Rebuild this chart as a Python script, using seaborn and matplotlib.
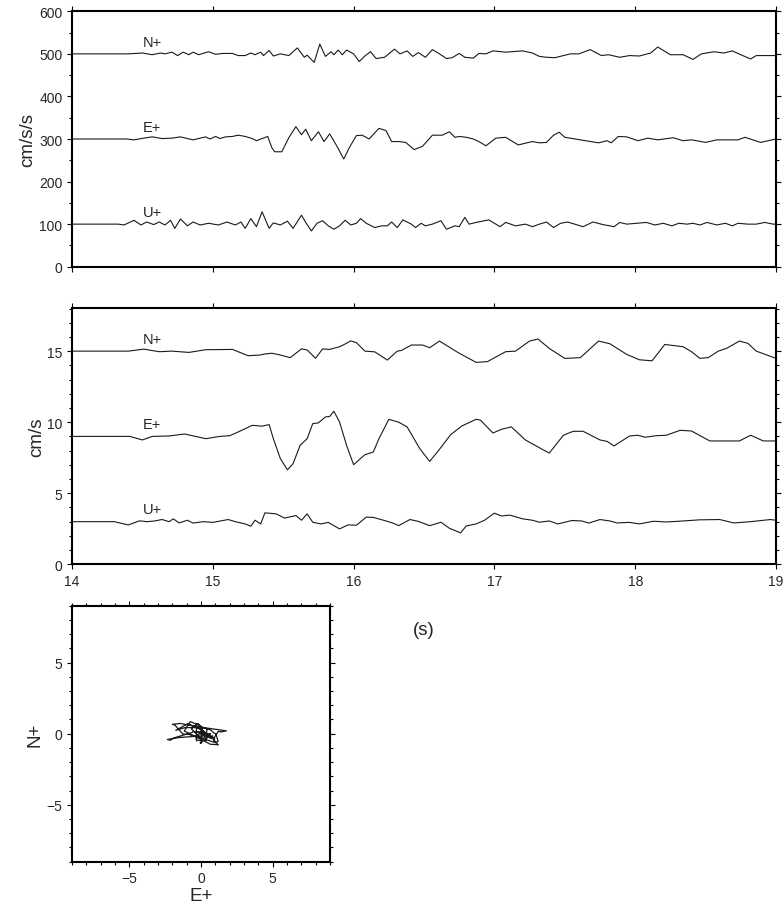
import numpy as np
import pandas as pd
import matplotlib
matplotlib.use("Agg")
import matplotlib.pyplot as plt
from matplotlib.ticker import MultipleLocator
import seaborn as sns

# ---------------- data ----------------
# Acceleration traces (cm/s/s), deviation from trace baseline
acc_n_t = [14.0, 14.40, 14.50, 14.57, 14.63, 14.66, 14.71, 14.75, 14.79, 14.83, 14.86, 14.90, 14.94, 14.97,
           15.02, 15.07, 15.14, 15.18, 15.23, 15.27, 15.30, 15.34, 15.36, 15.40, 15.43, 15.48, 15.54, 15.60,
           15.65, 15.67, 15.72, 15.76, 15.80, 15.84, 15.86, 15.89, 15.92, 15.95, 16.00, 16.04, 16.08, 16.12,
           16.16, 16.22, 16.29, 16.33, 16.38, 16.42, 16.46, 16.51, 16.56, 16.61, 16.66, 16.70, 16.75, 16.79,
           16.85, 16.89, 16.94, 16.99, 17.08, 17.20, 17.27, 17.32, 17.37, 17.43, 17.49, 17.54, 17.60, 17.68,
           17.76, 17.81, 17.89, 17.96, 18.03, 18.11, 18.16, 18.25, 18.34, 18.41, 18.47, 18.56, 18.63, 18.69,
           18.75, 18.82, 18.86, 19.0]
acc_n_v = [0, 0, 2, -2, 2, 0, 4, -4, 4, -2, 4, -2, 2, 5,
           -1, 1, 1, -4, -4, 2, -2, 4, -4, 8, -5, 0, -4, 14,
           -8, -3, -20, 23, -6, 5, -2, 9, -2, 9, 0, -18, -5, 5,
           -11, -8, 11, 0, 7, -6, 3, -8, 10, 0, -11, -9, 1, -8,
           -10, 1, 0, 7, 4, 7, 2, -6, -8, -9, -4, 0, 0, 10,
           -4, -2, -8, -4, -5, 2, 16, -2, -2, -13, 0, 5, 2, 7,
           -2, -12, -4, -4]

acc_e_t = [14.0, 14.39, 14.44, 14.51, 14.57, 14.64, 14.71, 14.77, 14.82, 14.86, 14.91, 14.95, 14.98, 15.02,
           15.05, 15.09, 15.14, 15.18, 15.23, 15.28, 15.31, 15.35, 15.39, 15.42, 15.44, 15.49, 15.54, 15.59,
           15.63, 15.66, 15.70, 15.75, 15.79, 15.83, 15.88, 15.93, 15.97, 16.02, 16.06, 16.11, 16.18, 16.23,
           16.27, 16.32, 16.37, 16.43, 16.49, 16.56, 16.63, 16.68, 16.72, 16.75, 16.80, 16.85, 16.89, 16.94,
           17.01, 17.08, 17.17, 17.23, 17.27, 17.32, 17.37, 17.42, 17.46, 17.50, 17.61, 17.74, 17.80, 17.83,
           17.88, 17.94, 18.02, 18.09, 18.16, 18.27, 18.34, 18.40, 18.50, 18.58, 18.73, 18.78, 18.89, 19.0]
acc_e_v = [0, 0, -2, 2, 5, 1, 2, 5, 1, -2, 2, 5, 0, 6,
           1, 5, 6, 9, 6, 1, -4, 1, 6, -21, -30, -30, 3, 29,
           10, 23, -4, 17, -6, 12, -16, -47, -20, 8, 9, 0, 25, 20,
           -6, -6, -8, -25, -17, 9, 9, 17, 4, 6, 4, 0, -6, -16,
           2, 4, -14, -9, -6, -9, -8, 9, 16, 4, -2, -9, -4, -9,
           6, 5, -4, 2, -2, 3, -4, -2, -8, -2, -2, 4, -8, 0]

acc_u_t = [14.0, 14.33, 14.37, 14.44, 14.49, 14.53, 14.58, 14.62, 14.66, 14.70, 14.73, 14.77, 14.82, 14.86,
           14.91, 14.97, 15.04, 15.10, 15.16, 15.20, 15.23, 15.27, 15.31, 15.35, 15.40, 15.43, 15.48, 15.53,
           15.57, 15.63, 15.66, 15.70, 15.74, 15.78, 15.82, 15.86, 15.90, 15.94, 15.98, 16.02, 16.05, 16.09,
           16.15, 16.20, 16.24, 16.27, 16.31, 16.35, 16.41, 16.44, 16.48, 16.51, 16.56, 16.62, 16.66, 16.72,
           16.75, 16.79, 16.82, 16.87, 16.96, 17.04, 17.08, 17.15, 17.22, 17.27, 17.32, 17.37, 17.42, 17.47,
           17.52, 17.57, 17.63, 17.70, 17.77, 17.85, 17.89, 17.94, 18.01, 18.08, 18.14, 18.20, 18.26, 18.31,
           18.37, 18.41, 18.46, 18.51, 18.58, 18.64, 18.69, 18.73, 18.80, 18.86, 18.92, 18.98, 19.0]
acc_u_v = [0, 0, -2, 9, -2, 5, -1, 5, -2, 9, -10, 12, -4, 5,
           -2, 2, -2, 5, -2, 5, -10, 13, -6, 29, -10, 3, -2, 7,
           -10, 21, 4, -16, 2, 8, -4, -12, -4, 9, -2, 2, 13, 2,
           -8, -4, -4, 5, -8, 10, 0, -8, 2, -4, 0, 8, -12, -4,
           -6, 16, 0, 4, 10, -6, 4, -4, 0, -6, 0, 5, -8, 2,
           5, 0, -6, 5, -1, -6, 4, 0, 2, 4, -2, 2, -4, 2,
           0, 2, -2, 4, -2, 2, -4, 2, 0, 0, 4, 0, 0]

# Velocity traces (cm/s), deviation from trace baseline
vel_n_t = [14.0, 14.40, 14.51, 14.62, 14.71, 14.83, 14.95, 15.14, 15.25, 15.33, 15.37, 15.42, 15.47, 15.55,
           15.63, 15.67, 15.73, 15.78, 15.83, 15.90, 15.93, 15.98, 16.02, 16.08, 16.15, 16.24, 16.31, 16.34,
           16.41, 16.49, 16.54, 16.61, 16.74, 16.87, 16.95, 17.08, 17.15, 17.25, 17.31, 17.39, 17.50, 17.61,
           17.74, 17.82, 17.94, 18.03, 18.12, 18.21, 18.34, 18.40, 18.46, 18.52, 18.59, 18.65, 18.74, 18.80,
           18.86, 19.0]
vel_n_v = [0, 0, 0.14, -0.04, 0.0, -0.09, 0.10, 0.12, -0.32, -0.28, -0.20, -0.15, -0.25, -0.46,
           0.16, 0.08, -0.50, 0.16, 0.12, 0.31, 0.45, 0.72, 0.60, 0.0, -0.05, -0.63, 0.0, 0.05,
           0.43, 0.43, 0.24, 0.71, -0.09, -0.79, -0.74, -0.04, 0.0, 0.71, 0.85, 0.19, -0.51, -0.46,
           0.71, 0.52, -0.23, -0.61, -0.68, 0.47, 0.31, -0.04, -0.51, -0.45, 0.0, 0.20, 0.71, 0.55,
           0.0, -0.51]

vel_e_t = [14.0, 14.41, 14.50, 14.57, 14.69, 14.80, 14.95, 15.05, 15.12, 15.18, 15.28, 15.35, 15.40, 15.43,
           15.48, 15.53, 15.57, 15.62, 15.67, 15.71, 15.75, 15.80, 15.83, 15.86, 15.90, 15.95, 16.00, 16.08,
           16.14, 16.18, 16.25, 16.32, 16.38, 16.47, 16.54, 16.61, 16.69, 16.77, 16.87, 16.90, 16.99, 17.05,
           17.12, 17.22, 17.34, 17.39, 17.49, 17.56, 17.63, 17.75, 17.80, 17.85, 17.96, 18.02, 18.07, 18.15,
           18.22, 18.32, 18.40, 18.53, 18.74, 18.82, 18.91, 19.0]
vel_e_v = [0, 0, -0.25, 0.0, 0.03, 0.17, -0.16, 0.0, 0.05, 0.31, 0.78, 0.72, 0.83, -0.16,
           -1.57, -2.35, -1.92, -0.63, -0.16, 0.90, 0.95, 1.37, 1.40, 1.77, 1.02, -0.63, -1.99, -1.29,
           -1.10, -0.16, 1.20, 1.00, 0.67, -0.86, -1.76, -0.91, 0.13, 0.74, 1.20, 1.15, 0.24, 0.50,
           0.67, -0.25, -0.91, -1.17, 0.08, 0.36, 0.36, -0.25, -0.35, -0.67, 0.03, 0.08, -0.06, 0.05,
           0.08, 0.43, 0.38, -0.32, -0.32, 0.08, -0.32, -0.32]

vel_u_t = [14.0, 14.30, 14.40, 14.48, 14.53, 14.58, 14.64, 14.69, 14.72, 14.76, 14.82, 14.86, 14.93, 15.00,
           15.11, 15.16, 15.23, 15.27, 15.30, 15.34, 15.37, 15.45, 15.51, 15.59, 15.63, 15.67, 15.71, 15.77,
           15.82, 15.86, 15.90, 15.96, 16.02, 16.09, 16.14, 16.22, 16.28, 16.32, 16.40, 16.46, 16.54, 16.62,
           16.68, 16.76, 16.80, 16.87, 16.93, 17.00, 17.05, 17.11, 17.20, 17.27, 17.32, 17.39, 17.45, 17.55,
           17.62, 17.67, 17.75, 17.82, 17.87, 17.96, 18.03, 18.13, 18.22, 18.31, 18.46, 18.60, 18.70, 18.82,
           18.96, 19.0]
vel_u_v = [0, 0, -0.23, 0.06, 0.0, 0.04, 0.15, 0.0, 0.20, -0.09, 0.10, -0.10, 0.0, -0.05,
           0.15, 0.0, -0.16, -0.32, 0.10, -0.16, 0.62, 0.55, 0.25, 0.43, 0.10, 0.55, -0.04, -0.16,
           -0.05, -0.28, -0.51, -0.23, -0.25, 0.32, 0.30, 0.08, -0.10, -0.28, 0.15, 0.02, -0.28, -0.04,
           -0.46, -0.79, -0.30, -0.16, 0.10, 0.60, 0.40, 0.46, 0.20, 0.10, -0.04, 0.05, -0.16, 0.08,
           0.05, -0.10, 0.15, 0.05, -0.09, -0.05, -0.16, 0.03, -0.02, 0.03, 0.13, 0.15, -0.09, 0.0,
           0.15, 0.10]

components = ["N+", "E+", "U+"]
acc_offsets = [500, 300, 100]
vel_offsets = [15, 9, 3]

# ---------------- style ----------------
sns.set_theme(style="ticks")
plt.rcParams["font.family"] = ["Liberation Sans", "DejaVu Sans"]
plt.rcParams["axes.unicode_minus"] = True

LW_FRAME = 1.5
TICK_FS = 10
LABEL_FS = 13.5
TRACE = dict(color="#1a1a1a", linewidth=0.8)

fig = plt.figure(figsize=(7.84, 9.04), dpi=100)
ax1 = fig.add_axes([72 / 784, 1 - 267.7 / 904, 704 / 784, 255.4 / 904])
ax2 = fig.add_axes([72 / 784, 1 - 565.3 / 904, 704 / 784, 255.8 / 904])
ax3 = fig.add_axes([72 / 784, 1 - 862.7 / 904, 258 / 784, 256 / 904])


def frame(ax):
    for s in ax.spines.values():
        s.set_linewidth(LW_FRAME)
        s.set_color("black")
    ax.tick_params(which="both", direction="out", top=True, right=True,
                   labeltop=False, labelright=False, color="black", width=0.8)
    ax.tick_params(which="major", length=3.8, labelsize=TICK_FS, pad=3)
    ax.tick_params(which="minor", length=1.9)


# --- top: acceleration ---
acc = [(acc_n_t, acc_n_v), (acc_e_t, acc_e_v), (acc_u_t, acc_u_v)]
for (t, v), off, lab in zip(acc, acc_offsets, components):
    df = pd.DataFrame({"t": t, "v": np.asarray(v, float) + off})
    sns.lineplot(data=df, x="t", y="v", ax=ax1, sort=False, estimator=None, **TRACE)
    ax1.text(14.5, off + 18, lab, fontsize=10.5, va="baseline", ha="left")
ax1.set_xlim(14, 19)
ax1.set_ylim(0, 600)
ax1.xaxis.set_major_locator(MultipleLocator(1))
ax1.yaxis.set_major_locator(MultipleLocator(100))
ax1.yaxis.set_minor_locator(MultipleLocator(50))
ax1.set_xticklabels([])
ax1.set_xlabel("")
ax1.set_ylabel("cm/s/s", fontsize=LABEL_FS, labelpad=2)
frame(ax1)

# --- middle: velocity ---
vel = [(vel_n_t, vel_n_v), (vel_e_t, vel_e_v), (vel_u_t, vel_u_v)]
for (t, v), off, lab in zip(vel, vel_offsets, components):
    df = pd.DataFrame({"t": t, "v": np.asarray(v, float) + off})
    sns.lineplot(data=df, x="t", y="v", ax=ax2, sort=False, estimator=None, **TRACE)
    ax2.text(14.5, off + 0.6, lab, fontsize=10.5, va="baseline", ha="left")
ax2.set_xlim(14, 19)
ax2.set_ylim(0, 18)
ax2.xaxis.set_major_locator(MultipleLocator(1))
ax2.yaxis.set_major_locator(MultipleLocator(5))
ax2.yaxis.set_minor_locator(MultipleLocator(1))
ax2.set_xlabel("(s)", fontsize=LABEL_FS, labelpad=24)
ax2.set_ylabel("cm/s", fontsize=LABEL_FS, labelpad=1.5)
frame(ax2)

# --- bottom: particle motion (E vs N velocity) ---
t_all = np.union1d(vel_n_t, vel_e_t)
pm = pd.DataFrame({"E": np.interp(t_all, vel_e_t, vel_e_v),
                   "N": np.interp(t_all, vel_n_t, vel_n_v)})
sns.lineplot(data=pm, x="E", y="N", ax=ax3, sort=False, estimator=None, color="#1a1a1a", linewidth=0.9)
ax3.set_xlim(-9, 9)
ax3.set_ylim(-9, 9)
for a in (ax3.xaxis, ax3.yaxis):
    a.set_major_locator(MultipleLocator(5))
    a.set_minor_locator(MultipleLocator(1))
ax3.set_xlabel("E+", fontsize=LABEL_FS, labelpad=1)
ax3.set_ylabel("N+", fontsize=LABEL_FS, labelpad=2)
frame(ax3)

fig.savefig("out.png", dpi=100)
